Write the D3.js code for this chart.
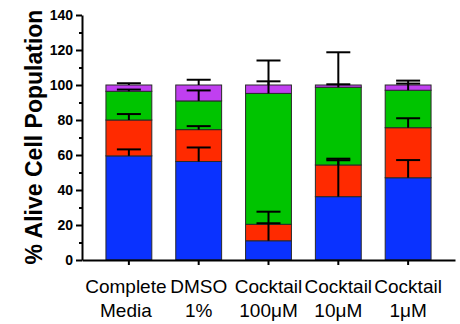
<!DOCTYPE html>
<html>
<head>
<meta charset="utf-8">
<script src="https://cdn.jsdelivr.net/npm/d3@7"></script>
<style>
  html, body { margin: 0; padding: 0; background: #fff; }
  svg { display: block; }
  text { font-family: "Liberation Sans", Arial, sans-serif; }
</style>
</head>
<body>
<svg id="chart" width="460" height="324"></svg>
<script>
// ---- data ----
const categories = ["Complete Media", "DMSO 1%", "Cocktail 100μM", "Cocktail 10μM", "Cocktail 1μM"];
const categoryLines = [["Complete", "Media"], ["DMSO", "1%"], ["Cocktail", "100μM"], ["Cocktail", "10μM"], ["Cocktail", "1μM"]];
const seriesNames = ["blue", "red", "green", "purple"];
const blueValues   = [59.5, 56.3, 11.0, 36.2, 47.0];
const redValues    = [20.5, 18.2,  9.4, 18.1, 28.6];
const greenValues  = [16.4, 16.4, 74.8, 44.4, 21.4];
const purpleValues = [ 3.6,  9.1,  4.8,  1.3,  3.0];
const blueErr   = [3.7, 8.0, 10.0, 20.8, 10.1];
const redErr    = [3.4, 2.0,  7.2,  3.6,  5.4];
const greenErr  = [1.0, 6.0,  6.9, 20.0,  3.8];
const purpleErr = [1.0, 3.0, 14.0,  0.4,  2.5];
const majorTicks = [0, 20, 40, 60, 80, 100, 120, 140];
const minorTicks = [10, 30, 50, 70, 90, 110, 130];
const yTitle = "% Alive Cell Population";

const colors = { blue: "#0a32ff", red: "#ff2a00", green: "#00c400", purple: "#c03ff0" };

// ---- build table ----
const table = categories.map((c, i) => ({
  cat: c,
  blue: blueValues[i], red: redValues[i], green: greenValues[i], purple: purpleValues[i],
  blueErr: blueErr[i], redErr: redErr[i], greenErr: greenErr[i], purpleErr: purpleErr[i]
}));
const stacked = d3.stack().keys(seriesNames)(table);

const svg = d3.select("#chart");
const x = d3.scaleBand().domain(categories).range([82, 455]).padding(0.343);
const y = d3.scaleLinear().domain([0, 140]).range([260, 15]);

// bars
const layers = svg.append("g").selectAll("g").data(stacked).join("g")
  .attr("fill", d => colors[d.key]);
layers.selectAll("rect").data(d => d.map(s => ({ s, key: d.key }))).join("rect")
  .attr("x", d => x(d.s.data.cat))
  .attr("width", x.bandwidth())
  .attr("y", d => y(d.s[1]))
  .attr("height", d => y(d.s[0]) - y(d.s[1]))
  .attr("stroke", "#2a2a2a")
  .attr("stroke-width", 1);

// error bars
const errs = [];
stacked.forEach(layer => {
  layer.forEach(s => {
    errs.push({ cat: s.data.cat, top: s[1], err: s.data[layer.key + "Err"] });
  });
});
const eg = svg.append("g").attr("stroke", "#000").attr("stroke-width", 2);
eg.selectAll("line.v").data(errs).join("line").attr("class", "v")
  .attr("x1", d => x(d.cat) + x.bandwidth() / 2)
  .attr("x2", d => x(d.cat) + x.bandwidth() / 2)
  .attr("y1", d => y(d.top))
  .attr("y2", d => y(d.top + d.err));
eg.selectAll("line.c").data(errs).join("line").attr("class", "c")
  .attr("x1", d => x(d.cat) + x.bandwidth() / 2 - 12)
  .attr("x2", d => x(d.cat) + x.bandwidth() / 2 + 12)
  .attr("y1", d => y(d.top + d.err))
  .attr("y2", d => y(d.top + d.err));

// y axis
const yAxis = svg.append("g").attr("transform", "translate(82,0)")
  .call(d3.axisLeft(y).tickValues(majorTicks).tickSize(6).tickSizeOuter(0).tickPadding(3));
yAxis.selectAll("text").attr("font-size", 14).attr("font-weight", "bold").attr("fill", "#000")
  .attr("font-family", "Liberation Sans, Arial, sans-serif");
const yMinor = svg.append("g").attr("transform", "translate(82,0)")
  .call(d3.axisLeft(y).tickValues(minorTicks).tickSize(3).tickFormat(""));
yMinor.select(".domain").remove();
svg.selectAll(".tick line").attr("stroke", "#000").attr("stroke-width", 2);
yAxis.select(".domain").attr("stroke", "#000").attr("stroke-width", 2);

// x axis
const xAxis = svg.append("g").attr("transform", "translate(0,260)")
  .call(d3.axisBottom(x).tickSize(5).tickSizeOuter(0).tickFormat(""));
xAxis.select(".domain").attr("stroke", "#000").attr("stroke-width", 2);
xAxis.selectAll(".tick line").attr("stroke", "#000").attr("stroke-width", 2);

// x labels
const lbl = svg.append("g").selectAll("text").data(categories).join("text")
  .attr("text-anchor", "middle")
  .attr("font-size", 19)
  .attr("fill", "#000");
lbl.each(function(c, i) {
  const cx = x(c) + x.bandwidth() / 2 + (i === 0 ? -3 : 0);
  const t = d3.select(this);
  categoryLines[i].forEach((line, j) => {
    t.append("tspan").attr("x", cx).attr("y", 293 + j * 24).text(line);
  });
});

// y title
svg.append("text")
  .attr("transform", "translate(42,137) rotate(-90)")
  .attr("text-anchor", "middle")
  .attr("font-size", 23)
  .attr("font-weight", "bold")
  .attr("fill", "#000")
  .text(yTitle);
</script>
</body>
</html>
